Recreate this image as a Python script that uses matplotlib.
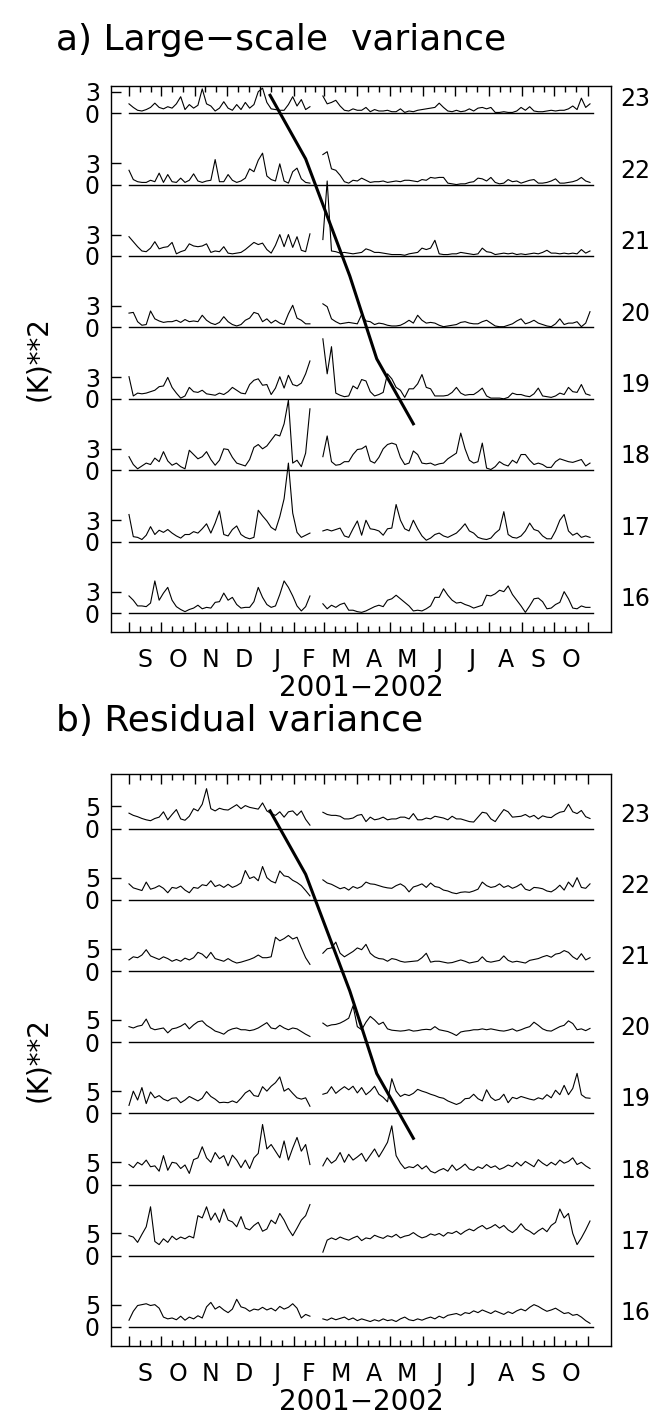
import numpy as np
import matplotlib.pyplot as plt

# days counted from 1 Sep 2001, one value every 4 days, gap in late Feb 2002
levels = [16, 17, 18, 19, 20, 21, 22, 23]
months = ['S', 'O', 'N', 'D', 'J', 'F', 'M', 'A', 'M', 'J', 'J', 'A', 'S', 'O']
step = 4
post_start = 180

# ---- a) large-scale variance ----
a23_pre = [1.3, 0.8, 0.4, 0.3, 0.5, 0.8, 1.4, 0.8, 0.6, 0.9, 0.7, 1.3, 2.3, 0.5, 1.2, 0.7, 1.1, 3.4, 1.3, 1.0, 0.3,
           0.7, 1.6, 0.7, 0.4, 1.2, 0.5, 1.5, 0.7, 1.2, 3.0, 3.5, 1.5, 0.6, 0.5, 0.4, 0.4, 1.2, 2.3, 1.0, 1.9, 0.5, 0.9]
a23_post = [2.4, 1.3, 1.5, 1.8, 1.0, 0.4, 0.3, 0.6, 0.4, 0.4, 0.8, 0.2, 0.5, 0.3, 0.3, 0.4, 0.2, 0.2, 0.6, 0.1, 0.3,
            0.2, 0.4, 0.5, 0.6, 0.7, 0.8, 1.4, 0.8, 0.3, 0.2, 0.4, 0.2, 0.3, 0.6, 0.3, 0.7, 0.8, 0.6, 0.8, 0.1, 0.1,
            0.2, 0.1, 0.1, 0.3, 0.8, 0.4, 0.9, 0.3, 0.2, 0.2, 0.3, 0.4, 0.3, 0.4, 0.4, 0.6, 1.0, 0.5, 2.1, 0.8, 1.3]
a22_pre = [2.0, 0.7, 0.4, 0.3, 0.3, 0.6, 0.4, 1.6, 0.3, 1.4, 0.4, 0.3, 0.9, 0.3, 0.6, 1.5, 0.5, 0.3, 0.5, 0.6, 3.5,
           0.4, 0.4, 1.4, 0.6, 0.3, 0.5, 0.9, 2.2, 1.8, 3.4, 4.4, 1.2, 0.7, 0.5, 2.9, 0.5, 0.2, 1.8, 2.3, 0.8, 0.3, 0.2]
a22_post = [4.2, 4.6, 2.2, 2.0, 1.3, 0.4, 0.2, 0.6, 0.5, 0.9, 0.6, 0.3, 0.4, 0.4, 0.5, 0.3, 0.4, 0.5, 0.4, 0.6, 0.6,
            0.5, 0.4, 0.7, 0.6, 1.0, 0.9, 1.0, 1.0, 0.2, 0.1, 0.0, 0.1, 0.1, 0.3, 0.4, 0.9, 0.8, 0.5, 1.0, 0.3, 0.1,
            0.2, 0.7, 0.4, 0.5, 0.2, 0.4, 0.6, 0.7, 0.2, 0.2, 0.3, 0.5, 0.8, 0.2, 0.2, 0.3, 0.4, 0.6, 1.0, 0.5, 0.3]
a21_pre = [2.7, 2.0, 1.3, 0.7, 0.6, 1.1, 2.0, 1.0, 1.2, 1.3, 1.9, 0.3, 0.6, 0.8, 1.7, 1.4, 1.3, 1.4, 1.7, 0.5, 0.7,
           0.6, 1.3, 0.4, 0.3, 0.4, 0.5, 0.9, 1.4, 1.9, 1.6, 1.8, 0.9, 0.4, 1.5, 3.0, 1.3, 3.0, 1.2, 2.7, 0.8, 0.6, 3.1]
a21_post = [2.3, 10.5, 0.7, 0.6, 0.4, 0.5, 0.4, 0.3, 0.4, 0.5, 1.0, 0.8, 0.5, 0.5, 0.4, 0.3, 0.2, 0.2, 0.2, 0.1, 0.3,
            0.4, 0.5, 1.1, 0.9, 1.1, 2.2, 0.3, 0.2, 0.2, 0.3, 0.3, 0.5, 0.4, 0.3, 0.2, 0.3, 1.1, 0.6, 0.5, 0.2, 0.3,
            0.4, 0.3, 0.4, 0.2, 0.3, 0.2, 0.3, 0.4, 0.3, 0.5, 0.8, 0.4, 0.4, 0.3, 0.4, 0.3, 0.4, 0.3, 0.9, 0.4, 0.7]
a20_pre = [2.0, 2.1, 0.8, 0.3, 0.4, 2.3, 1.2, 0.9, 0.7, 0.8, 0.8, 1.0, 0.7, 1.1, 0.8, 0.9, 0.8, 1.7, 1.0, 0.6, 0.4,
           0.7, 1.5, 0.8, 0.4, 0.2, 0.4, 1.0, 1.3, 2.1, 1.9, 0.8, 1.2, 0.6, 1.0, 0.6, 0.4, 1.9, 3.1, 1.3, 1.0, 0.5, 0.5]
a20_post = [3.3, 2.9, 1.2, 0.8, 0.5, 0.6, 0.7, 0.6, 0.5, 1.8, 0.9, 0.8, 0.4, 0.6, 0.5, 0.3, 0.2, 0.2, 0.3, 0.6, 1.0,
            0.6, 1.7, 1.0, 0.6, 0.7, 0.6, 0.3, 0.1, 0.2, 0.3, 0.4, 0.7, 0.8, 0.6, 0.5, 0.5, 0.8, 1.0, 0.6, 0.2, 0.1,
            0.1, 0.3, 0.5, 0.9, 1.2, 0.5, 0.7, 1.0, 0.6, 0.4, 0.2, 0.1, 0.5, 1.2, 0.4, 0.6, 0.6, 0.8, 0.1, 0.6, 2.2]
a19_pre = [3.1, 0.4, 0.8, 0.7, 0.8, 1.0, 1.2, 1.7, 1.8, 3.0, 1.6, 0.8, 0.1, 0.4, 1.6, 1.0, 0.9, 1.2, 0.7, 0.6, 0.5,
           0.8, 0.6, 1.0, 1.6, 1.2, 0.8, 0.7, 2.0, 2.6, 2.8, 1.9, 2.0, 0.6, 1.5, 3.1, 1.5, 3.3, 2.0, 1.8, 2.2, 3.5, 5.3]
a19_post = [8.4, 3.5, 7.3, 0.8, 0.5, 0.3, 0.4, 1.8, 1.4, 2.7, 2.5, 1.0, 0.4, 0.6, 0.9, 3.5, 2.8, 1.6, 1.2, 0.2, 1.4,
            1.4, 2.1, 3.4, 1.6, 1.4, 0.4, 0.4, 0.4, 0.5, 0.9, 1.6, 0.8, 0.5, 0.6, 0.6, 1.0, 1.5, 0.4, 0.1, 0.1, 0.1,
            0.0, 0.2, 0.8, 0.6, 0.6, 0.4, 0.3, 0.7, 1.5, 0.4, 0.3, 0.2, 0.4, 0.8, 0.6, 1.6, 1.0, 0.9, 2.0, 0.7, 0.5]
a18_pre = [1.9, 0.8, 0.2, 0.6, 1.0, 0.8, 1.7, 1.2, 2.6, 1.3, 0.7, 1.0, 0.5, 0.2, 2.8, 2.2, 1.6, 1.9, 2.6, 1.5, 0.7,
           1.4, 3.0, 2.9, 1.8, 1.0, 0.8, 0.6, 1.5, 3.2, 3.6, 3.0, 3.4, 4.2, 5.0, 4.8, 6.5, 9.8, 1.0, 1.4, 0.5, 2.4, 8.6]
a18_post = [1.9, 4.8, 1.2, 0.7, 0.8, 1.2, 1.2, 2.2, 2.9, 3.0, 3.4, 1.3, 1.0, 1.8, 3.0, 3.6, 3.8, 3.6, 1.8, 0.8, 1.0,
            2.7, 2.2, 1.0, 0.9, 1.0, 0.7, 0.9, 1.0, 1.6, 2.0, 2.4, 5.2, 3.0, 1.4, 1.0, 1.2, 3.8, 0.3, 0.1, 0.5, 1.2,
            0.8, 0.6, 1.4, 1.0, 2.2, 2.2, 1.4, 0.8, 1.0, 0.8, 0.4, 0.4, 1.2, 1.6, 1.4, 1.2, 1.1, 1.3, 1.5, 0.6, 1.0]
a17_pre = [3.8, 0.7, 0.6, 0.3, 0.9, 2.1, 1.0, 1.6, 1.3, 1.7, 1.2, 0.8, 0.5, 1.0, 1.0, 1.4, 1.2, 1.8, 2.5, 1.2, 2.6,
           4.3, 1.0, 0.8, 1.7, 2.2, 1.0, 0.6, 0.4, 0.6, 4.4, 3.6, 2.9, 2.0, 1.6, 3.5, 6.0, 11.0, 4.0, 1.3, 0.6, 0.9, 1.2]
a17_post = [1.5, 1.7, 1.5, 1.7, 1.9, 0.8, 0.6, 1.8, 2.9, 0.9, 3.0, 1.8, 1.7, 1.5, 0.9, 1.8, 1.9, 5.2, 3.0, 1.8, 1.5,
            3.0, 1.8, 0.8, 0.2, 0.5, 1.0, 1.2, 0.8, 0.6, 0.9, 1.2, 1.8, 2.5, 1.5, 1.2, 0.6, 0.4, 0.3, 0.5, 1.2, 1.7,
            4.2, 1.0, 0.6, 0.5, 0.8, 1.5, 2.6, 1.7, 1.5, 0.8, 0.4, 0.4, 1.5, 3.0, 3.8, 1.5, 0.9, 1.2, 0.6, 0.8, 0.6]
a16_pre = [2.4, 1.8, 1.0, 1.0, 0.9, 1.4, 4.5, 1.8, 2.8, 3.6, 1.8, 0.9, 0.5, 0.2, 0.5, 0.7, 1.1, 0.6, 0.8, 0.7, 1.5,
           1.6, 2.8, 1.8, 2.2, 1.2, 0.7, 0.8, 0.8, 1.6, 3.6, 2.2, 1.2, 0.8, 1.0, 2.6, 4.5, 3.6, 2.4, 1.0, 0.3, 0.9, 2.4]
a16_post = [1.3, 0.6, 1.1, 0.8, 1.2, 1.4, 0.4, 0.4, 0.2, 0.1, 0.3, 0.6, 0.9, 1.1, 0.9, 1.8, 2.0, 2.5, 2.0, 1.5, 1.0,
            0.3, 0.4, 0.3, 0.6, 1.0, 2.2, 2.2, 3.4, 2.5, 1.8, 1.4, 1.5, 1.2, 1.0, 0.7, 0.9, 1.1, 2.5, 2.4, 2.7, 3.2,
            3.0, 3.8, 2.6, 1.8, 1.0, 0.1, 1.0, 2.0, 2.1, 1.6, 0.6, 0.7, 1.2, 1.5, 3.0, 2.0, 0.7, 0.6, 1.0, 0.8, 0.8]

# ---- b) residual variance ----
b23_pre = [3.5, 3.0, 2.7, 2.3, 2.0, 1.8, 2.3, 2.6, 3.8, 2.0, 3.2, 4.3, 2.2, 1.9, 2.8, 4.5, 4.0, 5.5, 9.0, 4.5, 4.0,
           4.6, 4.3, 4.2, 4.8, 5.4, 4.5, 5.2, 4.8, 4.6, 4.4, 5.8, 4.0, 3.4, 3.0, 3.8, 2.6, 3.8, 4.0, 3.0, 4.0, 2.1, 0.8]
b23_post = [3.7, 3.2, 3.0, 3.0, 2.8, 2.2, 2.2, 2.4, 3.0, 3.2, 1.6, 2.6, 2.0, 2.2, 2.6, 2.0, 2.2, 2.2, 2.6, 2.6, 2.2,
            3.4, 2.0, 2.0, 2.4, 2.2, 2.8, 2.6, 2.4, 2.0, 2.8, 2.2, 2.2, 1.9, 1.6, 1.5, 2.6, 3.7, 3.5, 2.2, 1.6, 3.0,
            4.3, 3.8, 2.6, 2.7, 2.8, 3.2, 2.6, 3.0, 2.2, 2.9, 2.6, 2.5, 3.2, 3.7, 3.9, 5.5, 3.8, 3.4, 4.1, 2.7, 2.3]
b22_pre = [3.6, 2.7, 2.4, 2.1, 4.0, 2.4, 2.7, 3.2, 2.6, 1.6, 2.8, 2.6, 3.1, 2.2, 1.6, 2.8, 2.6, 3.4, 3.2, 4.3, 3.0,
           3.4, 2.8, 3.5, 2.8, 3.2, 3.8, 6.6, 4.8, 5.2, 4.3, 7.5, 5.0, 4.2, 3.8, 6.5, 5.4, 5.2, 4.4, 3.9, 3.2, 2.1, 0.9]
b22_post = [4.5, 3.8, 3.5, 3.0, 2.5, 2.8, 2.2, 3.0, 2.6, 3.0, 4.0, 3.6, 3.5, 3.2, 2.9, 2.7, 2.6, 3.2, 3.6, 3.0, 1.8,
            2.9, 3.2, 3.6, 2.8, 3.8, 3.0, 2.8, 2.2, 2.0, 1.6, 1.4, 1.7, 1.8, 1.7, 2.0, 2.4, 4.0, 3.2, 2.8, 3.0, 3.6,
            2.8, 3.2, 2.6, 3.0, 3.6, 2.4, 2.1, 2.8, 2.7, 2.5, 2.0, 1.8, 2.4, 3.3, 2.2, 4.0, 2.9, 5.0, 2.8, 2.6, 3.6]
b21_pre = [2.5, 3.2, 3.0, 3.6, 4.8, 3.4, 3.0, 2.6, 3.2, 2.8, 2.2, 2.6, 2.2, 2.9, 2.5, 3.0, 4.2, 3.8, 2.9, 4.2, 2.8,
           2.5, 2.2, 2.8, 2.2, 1.8, 2.0, 2.3, 2.6, 3.0, 3.6, 3.0, 3.0, 3.2, 7.6, 6.8, 7.3, 8.0, 7.2, 7.6, 5.2, 3.0, 1.5]
b21_post = [4.0, 5.0, 5.2, 6.5, 4.0, 3.2, 3.8, 4.4, 5.2, 4.8, 6.0, 4.0, 3.2, 2.8, 2.7, 2.2, 2.8, 2.6, 2.2, 2.0, 2.1,
            2.2, 2.3, 3.0, 4.0, 2.0, 2.2, 2.2, 2.0, 1.8, 1.9, 2.2, 2.5, 2.2, 1.8, 2.0, 2.2, 3.2, 2.2, 2.0, 2.2, 2.4,
            3.4, 2.4, 2.0, 2.2, 2.0, 1.8, 2.4, 2.6, 2.8, 3.2, 3.5, 3.1, 3.8, 4.0, 4.6, 4.2, 3.2, 2.6, 3.9, 2.5, 3.0]
b20_pre = [3.5, 3.2, 3.6, 3.8, 5.2, 3.2, 2.8, 3.0, 3.2, 2.1, 3.0, 3.2, 3.6, 4.2, 3.0, 3.9, 4.6, 4.8, 3.8, 3.2, 2.5,
           2.2, 1.8, 2.6, 3.0, 3.2, 2.8, 2.8, 2.6, 2.8, 3.2, 3.8, 4.4, 3.2, 3.0, 3.8, 3.2, 2.8, 3.2, 3.0, 2.4, 1.8, 1.3]
b20_post = [4.3, 3.6, 3.9, 4.0, 4.3, 4.8, 5.4, 8.2, 3.5, 2.8, 4.5, 5.8, 5.0, 4.0, 4.5, 3.0, 2.7, 2.6, 2.5, 2.6, 2.8,
            2.5, 2.6, 2.8, 2.9, 2.8, 3.5, 2.8, 2.6, 2.4, 2.0, 1.5, 2.3, 2.5, 2.6, 2.8, 2.8, 3.0, 2.8, 3.0, 2.8, 2.6,
            2.5, 2.7, 3.0, 2.5, 2.8, 3.2, 3.5, 4.5, 3.8, 3.0, 2.6, 2.5, 3.0, 3.5, 3.8, 4.8, 4.2, 2.8, 3.0, 2.6, 3.1]
b19_pre = [1.8, 5.0, 3.0, 5.8, 2.2, 4.8, 3.5, 4.0, 3.2, 2.8, 3.4, 3.5, 2.4, 3.0, 3.8, 3.3, 2.8, 3.4, 4.9, 3.8, 3.2,
           2.4, 2.5, 2.4, 2.8, 2.4, 3.4, 4.6, 5.2, 4.0, 3.8, 6.0, 5.0, 6.1, 6.9, 8.2, 5.0, 5.6, 4.5, 3.5, 3.2, 3.5, 1.6]
b19_post = [4.3, 4.6, 6.0, 4.5, 5.3, 6.0, 5.3, 6.1, 4.6, 5.8, 4.2, 5.0, 6.1, 4.3, 3.6, 2.6, 7.8, 5.0, 3.8, 4.3, 4.0,
            4.5, 5.4, 5.0, 4.7, 4.3, 4.0, 3.6, 3.4, 2.8, 2.4, 2.0, 2.4, 3.3, 3.4, 4.3, 3.3, 2.8, 5.3, 3.6, 2.9, 3.2,
            4.3, 2.4, 3.6, 3.3, 3.8, 3.5, 3.2, 3.0, 3.5, 3.2, 4.2, 3.5, 5.2, 4.2, 6.3, 4.2, 5.6, 9.0, 4.2, 3.5, 3.4]
b18_pre = [4.5, 3.8, 5.0, 4.4, 5.5, 4.0, 4.2, 3.0, 6.5, 3.2, 5.0, 4.8, 3.6, 4.4, 2.5, 5.6, 6.0, 8.5, 6.0, 5.0, 7.2,
           5.8, 6.5, 4.2, 6.6, 5.5, 3.8, 5.5, 3.6, 6.0, 7.0, 13.5, 8.0, 9.0, 7.5, 6.0, 9.8, 5.5, 8.2, 10.6, 7.5, 9.0, 4.5]
b18_post = [4.2, 6.0, 4.8, 5.5, 7.2, 5.0, 6.8, 5.5, 6.2, 7.0, 5.2, 6.6, 8.0, 6.2, 7.8, 9.5, 13.2, 6.5, 4.8, 3.6, 4.0,
            3.8, 4.5, 3.5, 4.2, 3.0, 2.6, 3.2, 3.6, 3.0, 4.4, 3.2, 3.8, 4.6, 3.5, 3.2, 4.0, 3.6, 4.5, 3.8, 4.2, 3.4,
            3.8, 4.4, 4.0, 5.0, 4.2, 5.2, 4.6, 4.0, 5.6, 4.8, 4.2, 5.0, 4.4, 5.5, 4.8, 5.2, 6.0, 4.5, 5.0, 4.2, 3.6]
b17_pre = [4.5, 4.2, 3.0, 4.8, 6.5, 11.0, 3.2, 2.5, 3.8, 3.0, 4.4, 3.6, 4.2, 3.8, 4.4, 4.0, 9.0, 8.5, 11.0, 8.0, 9.6,
           7.5, 10.5, 8.0, 7.6, 6.5, 8.8, 6.2, 5.8, 6.8, 7.5, 5.5, 6.0, 8.0, 7.2, 9.5, 8.0, 6.0, 4.5, 6.2, 8.0, 9.0, 11.5]
b17_post = [0.8, 3.5, 4.0, 3.6, 4.2, 3.8, 3.5, 4.0, 4.4, 3.4, 4.0, 3.8, 4.6, 4.2, 3.9, 4.5, 4.2, 4.8, 4.0, 4.4, 4.6,
            5.2, 4.5, 4.0, 4.3, 4.9, 4.6, 5.0, 4.4, 5.2, 5.0, 5.5, 4.8, 5.5, 6.0, 5.6, 6.3, 6.8, 6.0, 6.4, 7.0, 6.2,
            6.8, 5.8, 5.2, 6.0, 7.2, 6.0, 5.5, 4.8, 5.6, 6.2, 5.4, 6.8, 7.5, 10.5, 8.5, 9.5, 5.0, 2.5, 4.0, 5.8, 7.8]
b16_pre = [1.5, 3.5, 4.8, 5.0, 5.2, 4.8, 5.0, 4.2, 2.2, 1.8, 2.0, 1.6, 2.4, 1.5, 2.2, 1.8, 2.5, 2.0, 4.5, 5.5, 4.0,
           4.6, 3.8, 3.2, 4.0, 6.2, 4.5, 4.2, 3.5, 4.0, 3.8, 4.4, 3.8, 4.2, 3.6, 4.6, 4.0, 4.4, 5.2, 4.2, 2.0, 2.8, 2.4]
b16_post = [1.8, 1.5, 2.0, 1.6, 1.9, 2.2, 1.6, 2.0, 1.4, 1.8, 1.5, 1.2, 1.6, 1.3, 1.8, 1.4, 1.6, 1.2, 1.8, 2.2, 1.6,
            1.4, 1.8, 1.5, 1.9, 2.2, 1.8, 2.4, 2.0, 2.6, 2.8, 3.0, 2.6, 3.2, 3.0, 3.6, 3.2, 3.8, 3.4, 3.0, 3.6, 3.2,
            2.8, 3.4, 3.0, 3.6, 4.0, 3.6, 4.4, 5.0, 4.6, 4.0, 3.5, 3.8, 4.2, 3.6, 3.0, 3.2, 2.6, 2.8, 2.2, 1.4, 0.8]

# thick line: date (days from 1 Sep 2001) against level
ridge_day = [131, 164, 205, 230, 264]
ridge_level = [23.25, 22.36, 20.72, 19.56, 18.65]

panel_a = {16: (a16_pre, a16_post), 17: (a17_pre, a17_post), 18: (a18_pre, a18_post), 19: (a19_pre, a19_post),
           20: (a20_pre, a20_post), 21: (a21_pre, a21_post), 22: (a22_pre, a22_post), 23: (a23_pre, a23_post)}
panel_b = {16: (b16_pre, b16_post), 17: (b17_pre, b17_post), 18: (b18_pre, b18_post), 19: (b19_pre, b19_post),
           20: (b20_pre, b20_post), 21: (b21_pre, b21_post), 22: (b22_pre, b22_post), 23: (b23_pre, b23_post)}

t0 = np.datetime64('2001-09-01')
mstarts = np.arange('2001-09', '2002-12', dtype='datetime64[M]').astype('datetime64[D]')
mdays = (mstarts - t0).astype(int)
dekads = np.concatenate([mdays[:-1] + 10, mdays[:-1] + 20])
data_end = 431

plt.rcParams['font.family'] = 'DejaVu Sans'
W, H = 652, 1417
fig = plt.figure(figsize=(W / 100, H / 100), dpi=100)


def draw_panel(ax, series, spacing, ytick, ylim, title, title_y):
    for k, lev in enumerate(levels):
        base = k * spacing
        pre, post = series[lev]
        x1 = np.arange(len(pre)) * step
        x2 = post_start + np.arange(len(post)) * step
        ax.plot(x1, base + np.array(pre), color='k', lw=0.8)
        ax.plot(x2, base + np.array(post), color='k', lw=0.8)
        ax.plot([0, data_end], [base, base], color='k', lw=1.0)
        ax.annotate(str(lev), xy=(1, base), xycoords=('axes fraction', 'data'),
                    xytext=(7, 10), textcoords='offset points', ha='left', va='center', fontsize=17)
    ry = (np.array(ridge_level) - levels[0]) * spacing
    ax.plot(ridge_day, ry, color='k', lw=2.2)

    ax.set_xlim(-16.7, 447.5)
    ax.set_ylim(*ylim)
    yt, yl = [], []
    for k in range(len(levels)):
        yt += [k * spacing, k * spacing + ytick]
        yl += ['0', str(ytick)]
    ax.set_yticks(yt)
    ax.set_yticklabels(yl)
    ax.set_xticks(mdays)
    ax.set_xticks(dekads, minor=True)
    ax.set_xticklabels([])
    ax.tick_params(axis='y', direction='in', length=7, width=1, labelsize=17, pad=8, right=False)
    ax.tick_params(axis='x', which='major', direction='in', length=7, width=1, top=True, bottom=True)
    ax.tick_params(axis='x', which='minor', direction='in', length=4, width=1, top=True, bottom=True)
    for s in ax.spines.values():
        s.set_linewidth(1.0)

    for i, m in enumerate(months):
        xc = 0.5 * (mdays[i] + mdays[i + 1])
        ax.annotate(m, xy=(xc, 0), xycoords=('data', 'axes fraction'), xytext=(0, -20),
                    textcoords='offset points', ha='center', va='center', fontsize=17)
    ax.annotate('2001\u22122002', xy=(0.5, 0), xycoords='axes fraction', xytext=(0, -40),
                textcoords='offset points', ha='center', va='center', fontsize=20)
    pos = ax.get_position()
    fig.text(38 / W, 0.5 * (pos.y0 + pos.y1), '(K)**2', rotation=90, ha='center', va='center', fontsize=20)
    fig.text(56 / W, 1 - title_y / H, title, ha='left', va='baseline', fontsize=26)


ax_a = fig.add_axes([111 / W, 1 - 632 / H, 500 / W, 546 / H])
draw_panel(ax_a, panel_a, 10, 3, (-2.65, 73.8), 'a) Large\u2212scale  variance', 50)

ax_b = fig.add_axes([111 / W, 1 - 1346 / H, 500 / W, 572 / H])
draw_panel(ax_b, panel_b, 16, 5, (-4.3, 124.3), 'b) Residual variance', 731)

fig.savefig('out.png', dpi=100)
